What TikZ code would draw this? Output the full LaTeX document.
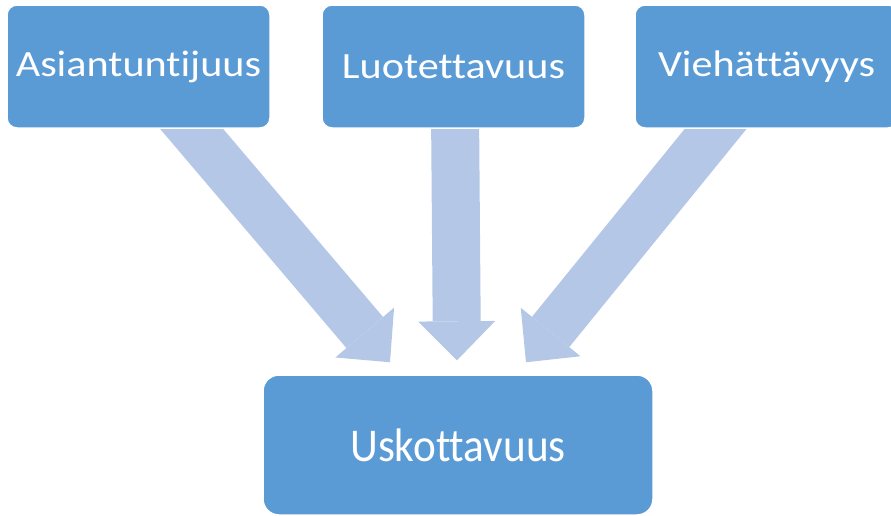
\documentclass[tikz,border=0pt]{standalone}
\usepackage{fontspec}
\setmainfont{Carlito}[Ligatures=NoCommon]
\usetikzlibrary{arrows.meta,calc,backgrounds}
\definecolor{boxblue}{HTML}{5B9BD5}
\definecolor{arrowblue}{HTML}{B4C7E7}
\tikzset{
  topbox/.style={draw=white, line width=1.5pt, fill=boxblue, rounded corners=10pt,
    minimum width=263pt, minimum height=123pt, inner sep=0pt, text=white,
    font=\fontsize{37}{44}\selectfont\addfontfeature{FakeStretch=1.14}},
  bottombox/.style={topbox, rounded corners=16pt, minimum width=390pt,
    minimum height=140pt, font=\fontsize{47}{56}\selectfont\addfontfeature{FakeStretch=0.92}},
  flowarrow/.style={draw=arrowblue, line width=48pt,
    -{Triangle[width=77pt,length=39pt,line width=0pt]}}
}
\begin{document}
\begin{tikzpicture}[x=1pt,y=-1pt]
      \useasboundingbox (0,0) rectangle (891,515);
      \clip (0,0) rectangle (891,515);
%
      \node[topbox] (asian) at (138.5,66.5) {Asiantuntijuus};
      \node[topbox] (luot) at (453.5,66.5) {Luotettavuus};
      \node[topbox] (vieh) at (766.5,66.5) {Viehättävyys};
      %
      \node[bottombox] (usko) at (458,445) {Uskottavuus};
%
      \begin{scope}[on background layer]
      \draw[flowarrow] ($(asian.south)+(36,-20)$) -- ($(usko.north)+(-68,-12)$);%
      \draw[flowarrow] ($(luot.south)+(1.5,-20)$) -- ($(usko.north)+(-1,-14)$);%
      \draw[flowarrow] ($(vieh.south)+(-34.5,-20)$) -- ($(usko.north)+(68,-12)$);%
      \end{scope}
   \end{tikzpicture}
\end{document}
